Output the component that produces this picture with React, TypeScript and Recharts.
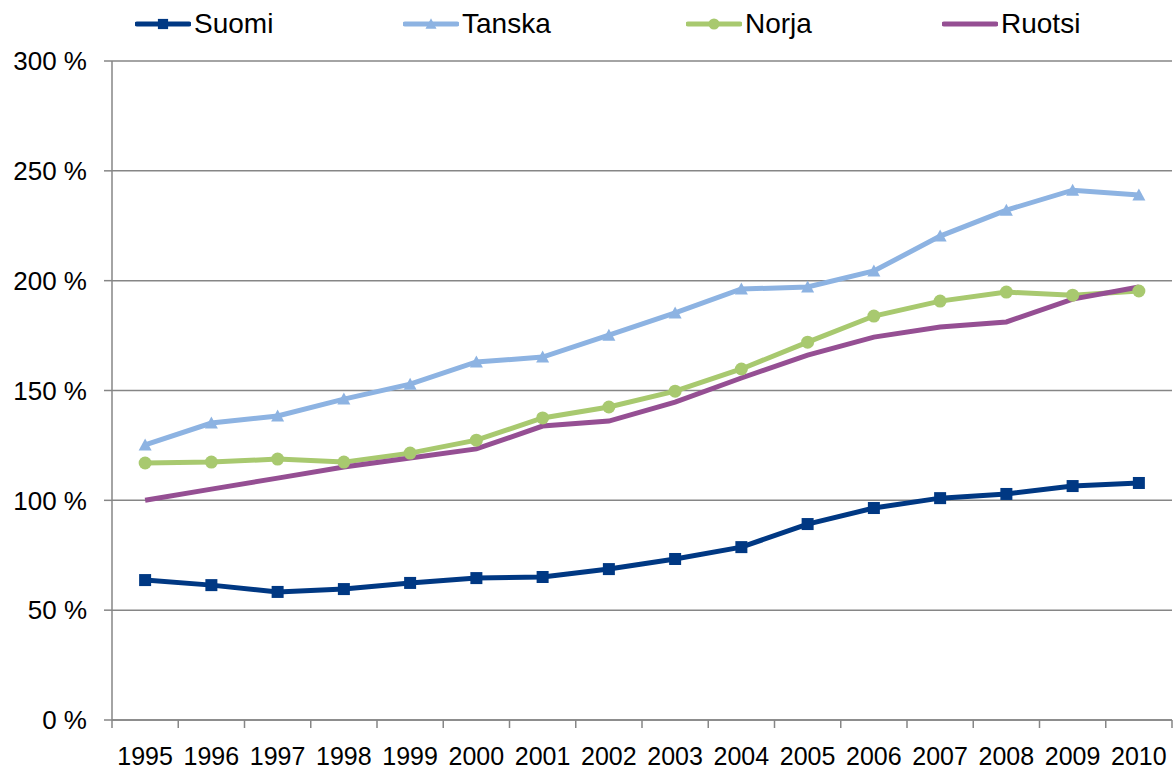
import React from 'react';
import { LineChart, Line, XAxis, YAxis, CartesianGrid } from 'recharts';

const years = ['1995','1996','1997','1998','1999','2000','2001','2002','2003','2004','2005','2006','2007','2008','2009','2010'];
const suomi = [63.7, 61.4, 58.3, 59.6, 62.4, 64.6, 65.1, 68.7, 73.3, 78.7, 89.2, 96.5, 101.0, 102.9, 106.5, 107.9];
const tanska = [125.2, 135.2, 138.4, 146.1, 152.9, 163.0, 165.2, 175.2, 185.3, 196.2, 197.1, 204.4, 220.3, 232.1, 241.2, 239.0];
const norja = [117.0, 117.4, 118.8, 117.4, 121.5, 127.4, 137.5, 142.5, 149.7, 159.8, 172.0, 183.9, 190.7, 194.8, 193.4, 195.3];
const ruotsi = [100.0, 105.1, 110.1, 115.2, 119.3, 123.4, 133.8, 136.1, 144.7, 155.7, 166.1, 174.3, 178.9, 181.2, 191.6, 197.1];
const yTicks = [0, 50, 100, 150, 200, 250, 300];
const boundaryTicks = [0,1,2,3,4,5,6,7,8,9,10,11,12,13,14,15,16];

const seriesNames = ['Suomi', 'Tanska', 'Norja', 'Ruotsi'];
const colors: Record<string, string> = {
  Suomi: '#003883',
  Tanska: '#8DB3E2',
  Norja: '#A8C96F',
  Ruotsi: '#954F93',
};
const markers: Record<string, string> = { Suomi: 'square', Tanska: 'triangle', Norja: 'circle', Ruotsi: 'none' };

const data = years.map((year, i) => ({
  year,
  idx: i,
  Suomi: suomi[i],
  Tanska: tanska[i],
  Norja: norja[i],
  Ruotsi: ruotsi[i],
}));

const GRID = '#868686';
const FONT = '"Liberation Sans", Arial, sans-serif';

function Marker({ kind, cx, cy, color, scale = 1 }: { kind: string; cx: number; cy: number; color: string; scale?: number }) {
  if (kind === 'square') {
    const s = 12 * scale;
    return <rect x={cx - s / 2} y={cy - s / 2} width={s} height={s} fill={color} />;
  }
  if (kind === 'triangle') {
    const w = 13 * scale;
    const h = 11 * scale;
    return <polygon points={`${cx},${cy - h / 2 - 1} ${cx + w / 2},${cy + h / 2} ${cx - w / 2},${cy + h / 2}`} fill={color} />;
  }
  if (kind === 'circle') {
    return <circle cx={cx} cy={cy} r={6.5 * scale} fill={color} />;
  }
  return null;
}

const makeDot = (name: string) => (p: any) => (
  <g key={`${name}-${p.index}`}>
    <Marker kind={markers[name]} cx={p.cx} cy={p.cy} color={colors[name]} />
  </g>
);

const legendLefts = [135, 403, 686, 942];

function LegendBar() {
  return (
    <div style={{ position: 'absolute', left: 0, top: 0, width: 1173, height: 50 }}>
      {seriesNames.map((name, i) => (
        <div
          key={name}
          style={{ position: 'absolute', left: legendLefts[i], top: 7, height: 34, display: 'flex', alignItems: 'center' }}
        >
          <svg width={56} height={20} style={{ display: 'block' }}>
            <line x1={2} y1={10} x2={54} y2={10} stroke={colors[name]} strokeWidth={5} strokeLinecap="round" />
            <Marker kind={markers[name]} cx={28} cy={10} color={colors[name]} scale={0.85} />
          </svg>
          <span style={{ fontFamily: FONT, fontSize: 28, color: '#000', marginLeft: 3, lineHeight: '34px' }}>{name}</span>
        </div>
      ))}
    </div>
  );
}

export default function App() {
  return (
    <div style={{ position: 'absolute', left: 0, top: 0, width: 1173, height: 771, background: '#fff', fontFamily: FONT }}>
      <LineChart width={1173} height={771} data={data} margin={{ top: 61, right: 1, bottom: 0, left: 0 }}>
        <CartesianGrid vertical={false} stroke={GRID} strokeWidth={1.5} xAxisId="b" />
        <XAxis
          xAxisId="b"
          dataKey="year"
          scale="band"
          interval={0}
          height={43}
          axisLine={false}
          tickLine={false}
          tickSize={0}
          tickMargin={19}
          tick={{ fontSize: 25, fill: '#000', fontFamily: FONT }}
        />
        <XAxis
          xAxisId="a"
          type="number"
          dataKey="idx"
          domain={[0, 16]}
          ticks={boundaryTicks}
          interval={0}
          allowDataOverflow
          height={8}
          tickFormatter={() => ''}
          tickSize={8}
          axisLine={{ stroke: GRID, strokeWidth: 1.5 }}
          tickLine={{ stroke: GRID, strokeWidth: 1.5 }}
        />
        <YAxis
          domain={[0, 300]}
          ticks={yTicks}
          width={112}
          interval={0}
          tickFormatter={(v: number) => `${v} %`}
          tickSize={8}
          tickMargin={17}
          axisLine={{ stroke: GRID, strokeWidth: 1.5 }}
          tickLine={{ stroke: GRID, strokeWidth: 1.5 }}
          tick={{ fontSize: 26, fill: '#000', fontFamily: FONT }}
        />
        {seriesNames.map((name) => (
          <Line
            key={name}
            xAxisId="b"
            type="linear"
            dataKey={name}
            stroke={colors[name]}
            strokeWidth={5}
            dot={markers[name] === 'none' ? false : makeDot(name)}
            activeDot={false}
            isAnimationActive={false}
          />
        ))}
      </LineChart>
      <LegendBar />
    </div>
  );
}
